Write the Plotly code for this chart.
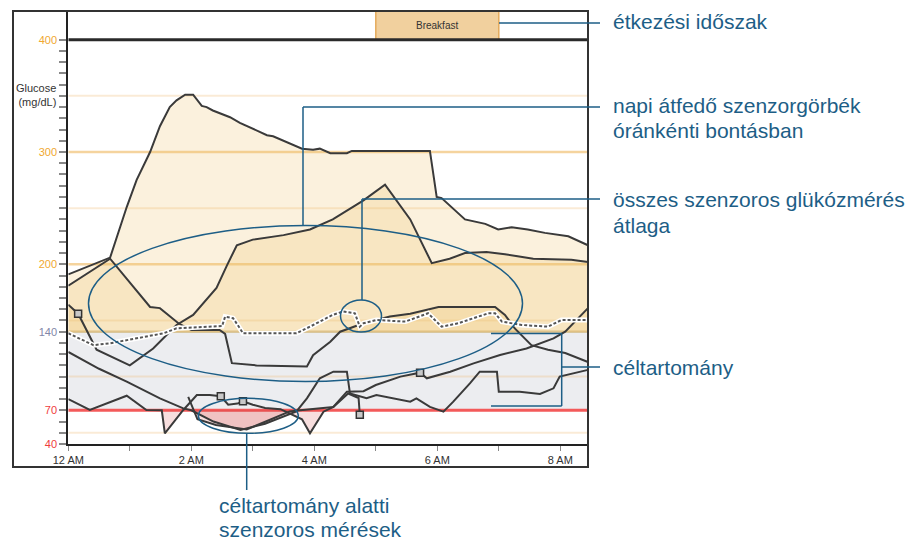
import plotly.graph_objects as go

# Órák (0 = 12 AM) és glükózértékek (mg/dL) - napi szenzorgörbék
C1_H = [0, 0.68, 0.95, 1.11, 1.33, 1.49, 1.65, 1.76, 1.9, 2.03, 2.17, 2.25, 2.35, 2.63, 2.79, 3.23, 3.33,
        3.8, 3.98, 4.09, 4.26, 4.53, 4.61, 5.88, 5.99, 6.07, 6.45, 6.78, 6.99, 7.21, 7.47, 7.75, 8.13, 8.45]
C1_V = [191, 206, 251, 275, 300, 323, 340, 346, 351, 351, 341, 340, 337, 331, 326, 315, 314,
        303, 302, 303, 299, 299, 301, 301, 260, 259, 240, 236, 231, 233, 231, 228, 225, 217]

C2_H = [0, 0.16, 0.46, 1.0, 1.38, 1.76, 2.03, 2.41, 2.58, 2.74, 3.0, 3.5, 3.93, 4.3, 4.8, 5.15,
        5.56, 5.91, 6.2, 6.45, 6.8, 7.1, 7.56, 8.18, 8.45]
C2_V = [164, 156, 124, 110, 125, 146, 155, 179, 199, 217, 222, 226, 231, 240, 257, 271,
        240, 201, 205, 210, 211, 209, 205, 204, 202]

C3_H = [0, 0.68, 1.33, 1.49, 1.79, 2.0, 2.46, 2.55, 2.66, 3.06, 3.88, 3.98, 4.26, 4.42, 4.8, 5.23,
        5.56, 6.02, 6.94, 7.1, 7.26, 7.53, 7.8, 8.08, 8.45]
C3_V = [181, 205, 162, 161, 147.5, 141.5, 141.5, 138, 112, 110, 109, 119, 131, 140, 147.5, 153.5,
        156, 162, 162, 155, 143, 128, 124, 121, 113]

C4_H = [0, 0.5, 0.95, 1.49, 1.87, 2.0, 2.36, 2.8, 3.2, 3.55, 3.71, 3.88, 4.09, 4.31, 4.53, 4.58,
        4.85, 5.01, 5.39, 5.56, 5.66, 5.88, 6.1, 6.26, 6.53, 6.69, 6.97, 7.0, 7.34, 7.67, 7.89, 7.99, 8.45]
C4_V = [122, 107, 95.5, 80.6, 71.7, 70, 60, 52.5, 58, 66, 69, 80.6, 98.5, 104.4, 104.4, 85,
        80.7, 83.6, 79.2, 77.7, 80.7, 73, 68.8, 77.7, 94, 104.4, 104.4, 86.6, 86.6, 84.5, 89.6, 100, 106]

C5_H = [0, 0.35, 0.95, 1.27, 1.52, 1.57, 1.87, 2.09, 2.3, 2.48, 2.6, 2.75, 2.84, 3.0, 3.2, 3.45,
        3.8, 3.93, 4.15, 4.31, 4.53, 4.8, 5.0, 5.4, 5.72, 5.83, 6.21, 6.59, 7.02, 7.45, 7.89, 8.08, 8.45]
C5_V = [80, 70.3, 83, 70.3, 70, 49.5, 70.3, 83.6, 83.6, 82.5, 75, 76, 78, 75, 72, 71,
        62, 49.5, 68.8, 73, 86.6, 87, 92.5, 100, 103.5, 98.5, 104.4, 111.8, 119.3, 125, 134, 140, 161]

C6_H = [1.95, 2.1, 2.4, 2.9, 3.3, 3.6, 3.77, 4.31, 4.55, 4.72, 4.74]
C6_V = [82, 62, 57, 53, 62, 69, 70, 73, 85, 81, 66]

AVG_H = [0, 0.41, 0.68, 1.22, 1.55, 1.76, 2.41, 2.5, 2.55, 2.68, 2.79, 2.84, 3.17, 3.71, 3.93, 4.3,
         4.47, 4.66, 4.74, 4.8, 5.01, 5.48, 5.85, 6.07, 6.34, 6.83, 6.94, 7.05, 7.37, 7.8, 8.02, 8.45]
AVG_V = [138.6, 128, 129.7, 135.5, 138.6, 143, 144.5, 145, 153.4, 152, 143, 138.6, 138.6, 138.6, 144.5, 155,
         158, 156.4, 144.5, 147.5, 150.4, 149, 156.4, 144.5, 147.5, 156.4, 156.4, 149, 146, 144.5, 150.4, 150.4]

# kalibrációs / végpont jelölők
MARK_H = [0.16, 2.48, 2.84, 4.74, 5.72]
MARK_V = [156, 82.5, 78, 66, 103.5]

CURVES = [(C1_H, C1_V), (C2_H, C2_V), (C3_H, C3_V), (C4_H, C4_V), (C5_H, C5_V), (C6_H, C6_V)]

Y_TICKS = [40, 70, 140, 200, 300, 400]
Y_TICK_COLORS = ["#f03c3c", "#f03c3c", "#8286a8", "#f0a830", "#f0a830", "#f0a830"]
X_LABELS = ["12 AM", "", "2 AM", "", "4 AM", "", "6 AM", "", "8 AM"]

TARGET_LOW, TARGET_HIGH = 70, 140
MEAL = ("Breakfast", 5, 7)

W, H = 913, 542
OFF = 8  # a böngésző alapértelmezett body margója
XMAX = 520 / 61.5
YMAX = 40 + 433 / 1.123
BLUE = "#1d5e86"
FONT = "Liberation Sans, Arial, sans-serif"


def px(x):
    return (x - OFF) / W


def py(y):
    return 1 - (y - OFF) / H


def clip_poly(h, v, level, above):
    """Poligon a görbe és a határérték között (fölötte vagy alatta)."""
    xs, ys = [], []
    for i in range(len(h)):
        if i > 0:
            a, b = v[i - 1] - level, v[i] - level
            if a * b < 0:
                t = a / (a - b)
                xs.append(h[i - 1] + t * (h[i] - h[i - 1]))
                ys.append(level)
        xs.append(h[i])
        ys.append(max(v[i], level) if above else min(v[i], level))
    xs += [h[-1], h[0]]
    ys += [level, level]
    return xs, ys


fig = go.Figure()

# kitöltések
for h, v in CURVES:
    if max(v) > TARGET_HIGH:
        xs, ys = clip_poly(h, v, TARGET_HIGH, True)
        fig.add_trace(go.Scatter(x=xs, y=ys, fill="toself", mode="none",
                                 fillcolor="rgba(236,190,100,0.22)", hoverinfo="skip"))
    if min(v) < TARGET_LOW:
        xs, ys = clip_poly(h, v, TARGET_LOW, False)
        fig.add_trace(go.Scatter(x=xs, y=ys, fill="toself", mode="none",
                                 fillcolor="rgba(210,60,60,0.17)", hoverinfo="skip"))

# görbék
for h, v in CURVES:
    fig.add_trace(go.Scatter(x=h, y=v, mode="lines",
                             line=dict(color="#3a3a3a", width=2)))

# átlag (szaggatott, fehér szegéllyel)
fig.add_trace(go.Scatter(x=AVG_H, y=AVG_V, mode="lines", line=dict(color="white", width=5)))
fig.add_trace(go.Scatter(x=AVG_H, y=AVG_V, mode="lines",
                         line=dict(color="#555555", width=2, dash="3px,2px")))

fig.add_trace(go.Scatter(x=MARK_H, y=MARK_V, mode="markers",
                         marker=dict(symbol="square", size=7, color="#c8c8c8",
                                     line=dict(color="#333333", width=1.5))))

shapes = []
# célsáv
shapes.append(dict(type="rect", xref="x", yref="y", x0=0, x1=XMAX, y0=TARGET_LOW, y1=TARGET_HIGH,
                   fillcolor="#ecedf0", line=dict(width=0), layer="below"))
for g in [50, 100, 150, 250, 350]:
    shapes.append(dict(type="line", xref="x", yref="y", x0=0, x1=XMAX, y0=g, y1=g,
                       line=dict(color="rgba(240,190,120,0.3)", width=2), layer="below"))
for g in [200, 300]:
    shapes.append(dict(type="line", xref="x", yref="y", x0=0, x1=XMAX, y0=g, y1=g,
                       line=dict(color="#f5d49e", width=2.5), layer="below"))
shapes.append(dict(type="line", xref="x", yref="y", x0=0, x1=XMAX, y0=TARGET_HIGH, y1=TARGET_HIGH,
                   line=dict(color="#d8c69c", width=2.5), layer="below"))
shapes.append(dict(type="line", xref="x", yref="y", x0=0, x1=XMAX, y0=TARGET_LOW, y1=TARGET_LOW,
                   line=dict(color="#f35a5a", width=3), layer="below"))
# étkezési sáv
shapes.append(dict(type="rect", xref="x", yref="y", x0=MEAL[1], x1=MEAL[2], y0=400, y1=YMAX,
                   fillcolor="#f1d09e", line=dict(color="#e4aa5c", width=1.5)))
shapes.append(dict(type="line", xref="x", yref="y", x0=0, x1=XMAX, y0=400, y1=400,
                   line=dict(color="#2a2a2a", width=3)))
# külső keret
shapes.append(dict(type="rect", xref="paper", yref="paper", x0=px(13), x1=px(588), y0=py(467), y1=py(11),
                   line=dict(color="#333333", width=2)))

# magyarázó vonalak
def pline(pts):
    for (x0, y0), (x1, y1) in zip(pts[:-1], pts[1:]):
        shapes.append(dict(type="line", xref="paper", yref="paper", x0=px(x0), y0=py(y0),
                           x1=px(x1), y1=py(y1), line=dict(color=BLUE, width=1.5)))


def ellipse(cx, cy, rx, ry):
    shapes.append(dict(type="circle", xref="paper", yref="paper", x0=px(cx - rx), x1=px(cx + rx),
                       y0=py(cy + ry), y1=py(cy - ry), line=dict(color=BLUE, width=1.5)))


pline([(499, 23), (600, 23)])
pline([(600, 107), (303, 107), (303, 226)])
pline([(600, 199), (362, 199), (362, 300)])
pline([(491, 333.5), (561.7, 333.5), (561.7, 406), (491, 406)])
pline([(561.7, 367), (600, 367)])
pline([(246.7, 433.5), (246.7, 490)])
ellipse(305.5, 303.5, 217, 78)
ellipse(361, 316, 20.5, 16)
ellipse(248.3, 415.8, 50, 17.5)

annotations = [
    dict(text=MEAL[0], x=(MEAL[1] + MEAL[2]) / 2, y=(400 + YMAX) / 2, xref="x", yref="y",
         showarrow=False, font=dict(size=10, color="#333333", family=FONT)),
    dict(text="Glucose<br>(mg/dL)", x=px(58), y=py(95), xref="paper", yref="paper", xanchor="right",
         yanchor="middle", showarrow=False, align="right",
         font=dict(size=11, color="#333333", family=FONT)),
]
labels = [
    ("étkezési időszak", 612, 22),
    ("napi átfedő szenzorgörbék", 612, 105),
    ("óránkénti bontásban", 612, 130),
    ("összes szenzoros glükózmérés", 612, 199),
    ("átlaga", 612, 225),
    ("céltartomány", 612, 367),
    ("céltartomány alatti", 218, 505),
    ("szenzoros mérések", 218, 529),
]
for t, x, y in labels:
    annotations.append(dict(text=t, x=px(x), y=py(y), xref="paper", yref="paper", xanchor="left",
                            yanchor="middle", showarrow=False, borderpad=0,
                            font=dict(size=21, color=BLUE, family=FONT)))

y_vals = list(range(40, 401, 10))
y_text = []
for val in y_vals:
    if val in Y_TICKS:
        c = Y_TICK_COLORS[Y_TICKS.index(val)]
        y_text.append(f"<span style='color:{c}'>{val}</span>")
    else:
        y_text.append("")

fig.update_layout(
    width=W, height=H,
    margin=dict(l=0, r=0, t=0, b=0, autoexpand=False),
    paper_bgcolor="white", plot_bgcolor="white",
    showlegend=False,
    shapes=shapes, annotations=annotations,
    font=dict(family=FONT),
    xaxis=dict(domain=[px(68.3), px(588.3)], range=[0, XMAX], showgrid=False, zeroline=False,
               automargin=False, showline=True, linecolor="#222222", linewidth=2,
               tickvals=list(range(9)), ticktext=X_LABELS, ticks="outside", ticklen=5,
               tickcolor="#888888", tickfont=dict(size=11, color="#333333", family=FONT)),
    yaxis=dict(domain=[py(444), py(11)], range=[40, YMAX], showgrid=False, zeroline=False,
               automargin=False, showline=True, linecolor="#222222", linewidth=2,
               tickvals=y_vals, ticktext=y_text, ticks="outside", ticklen=7,
               tickcolor="#888888", tickwidth=1.5, tickfont=dict(size=11, family=FONT)),
)

fig.write_html("out.html")
